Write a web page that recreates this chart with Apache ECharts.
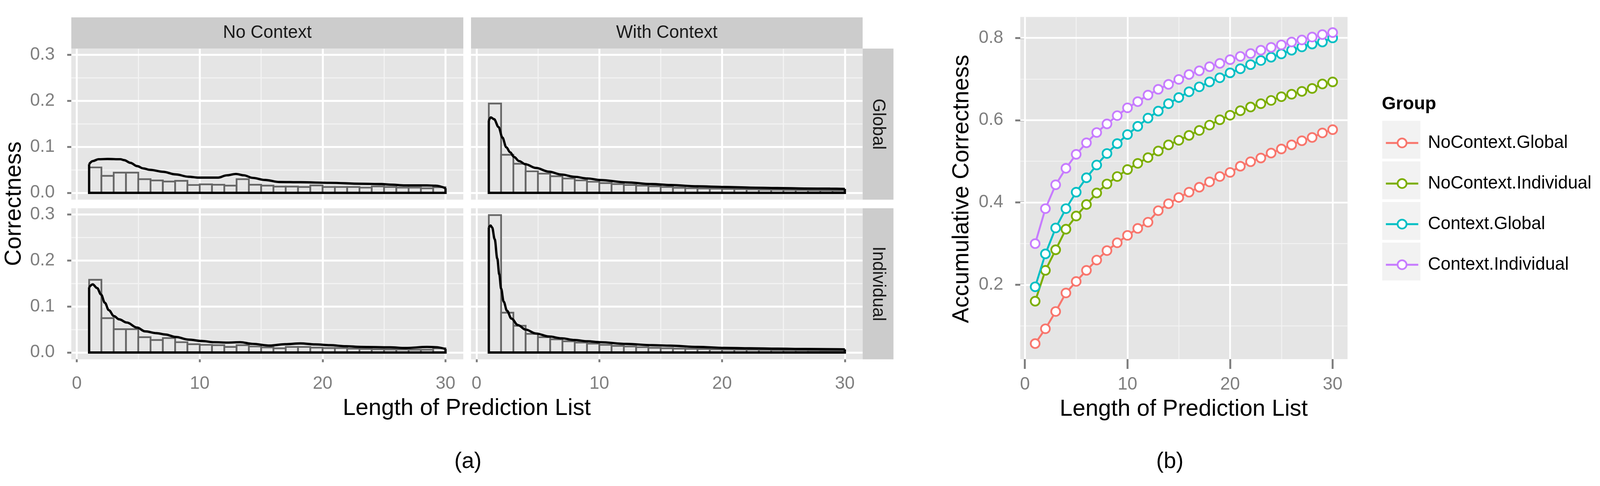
<!DOCTYPE html>
<html><head><meta charset="utf-8">
<script src="https://cdn.jsdelivr.net/npm/echarts@6/dist/echarts.min.js"></script>
<style>html,body{margin:0;padding:0;background:#fff;overflow:hidden}#c{width:100vw;height:100vh}</style>
</head><body><div id="c"></div>
<script>
// ---------------- data ----------------
const listLength = [1,2,3,4,5,6,7,8,9,10,11,12,13,14,15,16,17,18,19,20,21,22,23,24,25,26,27,28,29,30];
const binStart = [1,2,3,4,5,6,7,8,9,10,11,12,13,14,15,16,17,18,19,20,21,22,23,24,25,26,27,28,29];
const binWidth = 1;

// (a) histogram bars
const noCtxGlobalBars = [0.0552,0.0368,0.0439,0.0439,0.0297,0.0269,0.0246,0.0260,0.0170,0.0184,0.0176,0.0156,0.0297,0.0176,0.0156,0.0135,0.0135,0.0127,0.0160,0.0127,0.0127,0.0127,0.0113,0.0140,0.0127,0.0113,0.0113,0.0099,0.0120];
const ctxGlobalBars   = [0.1940,0.0827,0.0631,0.0467,0.0416,0.0360,0.0312,0.0270,0.0240,0.0212,0.0190,0.0170,0.0156,0.0142,0.0127,0.0110,0.0100,0.0095,0.0090,0.0085,0.0080,0.0075,0.0070,0.0068,0.0062,0.0060,0.0055,0.0052,0.0050];
const noCtxIndivBars  = [0.1580,0.0746,0.0506,0.0506,0.0333,0.0271,0.0313,0.0223,0.0180,0.0166,0.0158,0.0121,0.0158,0.0130,0.0110,0.0090,0.0121,0.0121,0.0106,0.0097,0.0097,0.0085,0.0076,0.0070,0.0065,0.0065,0.0060,0.0060,0.0090];
const ctxIndivBars    = [0.2985,0.0865,0.0580,0.0404,0.0333,0.0285,0.0243,0.0215,0.0192,0.0166,0.0144,0.0130,0.0115,0.0101,0.0092,0.0085,0.0080,0.0075,0.0070,0.0066,0.0062,0.0060,0.0056,0.0053,0.0050,0.0048,0.0045,0.0043,0.0040];

// (a) density curves [x, y]
const noCtxGlobalDens = [[1,0.0623],[1.3,0.069],[1.76,0.073],[2.5,0.0735],[3.54,0.073],[3.85,0.071],[4.37,0.065],[4.9,0.058],[5.42,0.053],[5.94,0.050],[6.99,0.0458],[8.04,0.040],[9.08,0.035],[9.92,0.033],[11.5,0.033],[12.2,0.038],[12.95,0.041],[13.6,0.038],[14.3,0.0325],[15.3,0.028],[16.5,0.0235],[18.2,0.023],[20.6,0.0217],[23.1,0.0197],[24.8,0.019],[25.5,0.0177],[26.7,0.016],[28.5,0.016],[29.2,0.0155],[30,0.0099]];
const ctxGlobalDens = [[1,0.157],[1.16,0.164],[1.43,0.160],[1.79,0.143],[2.11,0.120],[2.42,0.099],[2.74,0.088],[3.05,0.078],[3.47,0.069],[3.99,0.062],[4.84,0.054],[5.89,0.046],[6.93,0.0397],[7.98,0.0348],[9.03,0.0312],[10.08,0.0278],[12.2,0.0227],[14.3,0.019],[15.8,0.0169],[18,0.0141],[20.2,0.0127],[22.3,0.0113],[24.5,0.0104],[26.7,0.0093],[28.8,0.009],[30,0.0085]];
const noCtxIndivDens = [[1,0.1416],[1.29,0.148],[1.65,0.140],[1.97,0.126],[2.28,0.108],[2.6,0.092],[3.02,0.079],[3.44,0.072],[4.07,0.065],[4.91,0.054],[5.54,0.046],[6.48,0.042],[7.21,0.039],[8.05,0.0336],[9.1,0.028],[10.15,0.0249],[11.2,0.0223],[12.25,0.0215],[13.3,0.0223],[14.3,0.0187],[15.7,0.015],[16.95,0.018],[18.2,0.0197],[19.4,0.0176],[20.6,0.0158],[21.9,0.0136],[23.1,0.0121],[25.5,0.0112],[26.75,0.0097],[28.5,0.0121],[29.2,0.0115],[30,0.0076]];
const ctxIndivDens = [[1,0.2717],[1.14,0.276],[1.27,0.2717],[1.48,0.246],[1.69,0.204],[1.85,0.170],[2.0,0.139],[2.21,0.1105],[2.48,0.0907],[2.84,0.0738],[3.37,0.0596],[4.0,0.0497],[4.84,0.0412],[5.89,0.0348],[6.93,0.0308],[7.98,0.0271],[9.03,0.0243],[10.08,0.0223],[12.2,0.0186],[14.3,0.0158],[15.8,0.0148],[18,0.0121],[20.2,0.010],[22.3,0.0091],[24.5,0.0082],[26.7,0.0076],[30,0.0067]];

// (b) accumulative correctness
const accNoCtxGlobal = [0.057,0.093,0.135,0.180,0.208,0.235,0.260,0.283,0.302,0.320,0.337,0.352,0.380,0.397,0.412,0.425,0.437,0.450,0.463,0.473,0.488,0.499,0.508,0.520,0.530,0.540,0.550,0.558,0.569,0.577];
const accNoCtxIndiv  = [0.160,0.235,0.285,0.335,0.367,0.395,0.423,0.445,0.463,0.480,0.495,0.509,0.525,0.540,0.551,0.563,0.575,0.588,0.601,0.612,0.623,0.632,0.640,0.648,0.657,0.663,0.670,0.677,0.688,0.693];
const accCtxGlobal   = [0.195,0.275,0.338,0.385,0.425,0.460,0.491,0.519,0.543,0.565,0.585,0.605,0.622,0.640,0.655,0.669,0.681,0.693,0.703,0.715,0.725,0.735,0.745,0.753,0.761,0.770,0.778,0.785,0.790,0.800];
const accCtxIndiv    = [0.300,0.385,0.443,0.483,0.517,0.545,0.570,0.591,0.611,0.630,0.645,0.661,0.675,0.687,0.699,0.711,0.720,0.730,0.738,0.747,0.755,0.762,0.770,0.777,0.783,0.790,0.795,0.802,0.808,0.813];

const groupNames = ['NoContext.Global','NoContext.Individual','Context.Global','Context.Individual'];
const colLabels = ['No Context','With Context'];
const rowLabels = ['Global','Individual'];

// ticks
const xMajor = [0,10,20,30];
const xMinor = [5,15,25];
const yMajorA = [0,0.1,0.2,0.3];
const yMinorA = [0.05,0.15,0.25];
const yMajorB = [0.2,0.4,0.6,0.8];
const yMinorB = [0.1,0.3,0.5,0.7];

// ---------------- layout / style (designed for 4151 x 1245, scaled to the real viewport) ----------------
const VW = window.innerWidth || 4151, VH = window.innerHeight || 1245;
const SX = VW / 4151, SY = VH / 1245, SF = Math.min(SX, SY);
const X = v => v * SX, Y = v => v * SY, F = v => v * SF;

const FONT = 'Liberation Sans, Arial, Helvetica, sans-serif';
const GREY50 = '#7F7F7F';
const BG = '#E5E5E5';
const panelsPx = [
  {left:185,  top:124.5, width:1017, height:387},
  {left:1222, top:124.5, width:1016, height:387},
  {left:185,  top:533.5, width:1017, height:387},
  {left:1222, top:533.5, width:1016, height:387}
];
const panels = panelsPx.map(p => ({left:X(p.left), top:Y(p.top), width:X(p.width), height:Y(p.height)}));
const panelB = {left:X(2647), top:Y(43.5), width:X(849), height:Y(876.5)};
const facetBars = [noCtxGlobalBars, ctxGlobalBars, noCtxIndivBars, ctxIndivBars];
const facetDens = [noCtxGlobalDens, ctxGlobalDens, noCtxIndivDens, ctxIndivDens];
const groupColors = ['#F8766D','#7CAE00','#00BFC4','#C77CFF'];
const groupAcc = [accNoCtxGlobal, accNoCtxIndiv, accCtxGlobal, accCtxIndiv];

const grids = panels.map(p => Object.assign({show:true, backgroundColor:BG, borderWidth:0, containLabel:false}, p));
grids.push(Object.assign({show:true, backgroundColor:BG, borderWidth:0, containLabel:false}, panelB));

const xAxes = [], yAxes = [], series = [];

function gridMarkLine(xMaj, xMin, yMaj, yMin, wMaj, wMin) {
  const d = [];
  xMin.forEach(v => d.push({xAxis:v, lineStyle:{color:'#F2F2F2', width:F(wMin), type:'solid'}}));
  yMin.forEach(v => d.push({yAxis:v, lineStyle:{color:'#F2F2F2', width:F(wMin), type:'solid'}}));
  xMaj.forEach(v => d.push({xAxis:v, lineStyle:{color:'#FFFFFF', width:F(wMaj), type:'solid'}}));
  yMaj.forEach(v => d.push({yAxis:v, lineStyle:{color:'#FFFFFF', width:F(wMaj), type:'solid'}}));
  return {silent:true, symbol:['none','none'], label:{show:false}, z:1, animation:false, data:d,
          emphasis:{disabled:true}};
}

panels.forEach((p, i) => {
  const bottom = i >= 2, leftCol = (i % 2) === 0;
  xAxes.push({type:'value', gridIndex:i, min:-0.45, max:31.45,
    axisLine:{show:false}, splitLine:{show:false},
    axisTick:{show:bottom, length:Y(25), customValues:xMajor, lineStyle:{color:GREY50, width:F(5)}},
    axisLabel:{show:bottom, customValues:xMajor, margin:Y(40), color:GREY50, fontSize:F(46), fontFamily:FONT}
  });
  yAxes.push({type:'value', gridIndex:i, min:-0.0149, max:0.3134,
    axisLine:{show:false}, splitLine:{show:false},
    axisTick:{show:leftCol, length:X(25), customValues:yMajorA, lineStyle:{color:GREY50, width:F(5)}},
    axisLabel:{show:leftCol, customValues:yMajorA, margin:X(43), color:GREY50, fontSize:F(46), fontFamily:FONT,
               formatter: v => Number(v).toFixed(1)}
  });
  series.push({type:'line', xAxisIndex:i, yAxisIndex:i, data:[], silent:true, z:1,
    markLine: gridMarkLine(xMajor, xMinor, yMajorA, yMinorA, 5, 3)});
  series.push({type:'custom', xAxisIndex:i, yAxisIndex:i, z:2, silent:true,
    data: binStart.map((s, k) => [s, s + binWidth, facetBars[i][k]]),
    encode:{x:[0,1], y:2},
    renderItem: function(params, api) {
      const a = api.coord([api.value(0), api.value(2)]);
      const b = api.coord([api.value(1), 0]);
      return {type:'rect', shape:{x:a[0], y:a[1], width:b[0]-a[0], height:b[1]-a[1]},
              style:{fill:'#E6E6E6', stroke:'#666666', lineWidth:F(4.5)}};
    }
  });
  const dens = facetDens[i];
  const first = dens[0], last = dens[dens.length-1];
  series.push({type:'line', xAxisIndex:i, yAxisIndex:i, z:3, silent:true, symbol:'none',
    data:[[last[0], last[1]], [last[0], 0], [first[0], 0], [first[0], first[1]]],
    lineStyle:{color:'#000', width:F(6), join:'miter'}});
  series.push({type:'line', xAxisIndex:i, yAxisIndex:i, z:4, silent:true, symbol:'none',
    data: dens, smooth:0.35, smoothMonotone:'x',
    lineStyle:{color:'#000', width:F(6)}});
});

// (b)
xAxes.push({type:'value', gridIndex:4, min:-0.45, max:31.45,
  axisLine:{show:false}, splitLine:{show:false},
  axisTick:{show:true, length:Y(25), customValues:xMajor, lineStyle:{color:GREY50, width:F(5)}},
  axisLabel:{show:true, customValues:xMajor, margin:Y(43), color:GREY50, fontSize:F(46), fontFamily:FONT}
});
yAxes.push({type:'value', gridIndex:4, min:0.0192, max:0.8508,
  axisLine:{show:false}, splitLine:{show:false},
  axisTick:{show:true, length:X(25), customValues:yMajorB, lineStyle:{color:GREY50, width:F(5)}},
  axisLabel:{show:true, customValues:yMajorB, margin:X(44), color:GREY50, fontSize:F(46), fontFamily:FONT,
             formatter: v => Number(v).toFixed(1)}
});
series.push({type:'line', xAxisIndex:4, yAxisIndex:4, data:[], silent:true, z:1,
  markLine: gridMarkLine(xMajor, xMinor, yMajorB, yMinorB, 4.5, 2.5)});
groupNames.forEach((name, g) => {
  series.push({type:'line', name:name, xAxisIndex:4, yAxisIndex:4, z:2+g,
    data: listLength.map((x, k) => [x, groupAcc[g][k]]),
    symbol:'circle', symbolSize:F(23), showAllSymbol:true,
    lineStyle:{color:groupColors[g], width:F(5)},
    itemStyle:{color:'#FFFFFF', borderColor:groupColors[g], borderWidth:F(4.5)},
    emphasis:{disabled:true}
  });
});

const keyCenters = [358, 462, 566, 670];
const legends = groupNames.map((name, g) => ({
  data:[name], left:X(3593), top:Y(keyCenters[g]) - F(14.5), orient:'vertical', padding:0, itemGap:0,
  itemWidth:X(84), itemHeight:F(29), selectedMode:false,
  itemStyle:{borderWidth:F(4.5)}, lineStyle:{width:F(5)},
  textStyle:{fontSize:F(46), color:'#000', fontFamily:FONT, padding:[0,0,0,X(20)], lineHeight:F(29)}
}));

function txt(x, y, s, size, opts) {
  opts = opts || {};
  return {type:'text', x:X(x), y:Y(y), rotation:opts.rot || 0, z:10, silent:true,
    style:{text:s, font:(opts.bold ? 'bold ' : '') + F(size) + 'px ' + FONT, fill:opts.color || '#000',
           textAlign:opts.align || 'center', textVerticalAlign:'middle', align:opts.align || 'center', verticalAlign:'middle'}};
}
function box(x, y, w, h, fill, z) {
  return {type:'rect', shape:{x:X(x), y:Y(y), width:X(w), height:Y(h)}, style:{fill:fill}, silent:true, z:z};
}
const graphics = [];
// top strips
[panelsPx[0], panelsPx[1]].forEach((p, c) => {
  graphics.push(box(p.left, 44.5, p.width, 80, '#CCCCCC', 5));
  graphics.push(txt(p.left + p.width/2, 84.5, colLabels[c], 46, {color:'#1A1A1A'}));
});
// right strips
[panelsPx[1], panelsPx[3]].forEach((p, r) => {
  graphics.push(box(p.left + p.width, p.top, 80, p.height, '#CCCCCC', 5));
  graphics.push(txt(p.left + p.width + 40, p.top + p.height/2, rowLabels[r], 46, {color:'#1A1A1A', rot:-Math.PI/2}));
});
// titles (a)
graphics.push(txt(37, 522, 'Correctness', 60, {rot:Math.PI/2}));
graphics.push(txt(1211, 1047, 'Length of Prediction List', 60));
graphics.push(txt(1214, 1183, '(a)', 58));
// titles (b)
graphics.push(txt(2496, 484, 'Accumulative Correctness', 60, {rot:Math.PI/2}));
graphics.push(txt(3071, 1049, 'Length of Prediction List', 60));
graphics.push(txt(3035, 1183, '(b)', 58));
// legend
graphics.push(txt(3585, 267, 'Group', 47, {bold:true, align:'left'}));
keyCenters.forEach(cy => graphics.push(box(3586, cy - 48.5, 99, 97, '#F2F2F2', -1)));

const chart = echarts.init(document.getElementById('c'), null, {renderer:'canvas', width:VW, height:VH});
chart.setOption({
  animation:false,
  backgroundColor:'#FFFFFF',
  grid:grids, xAxis:xAxes, yAxis:yAxes, series:series,
  legend:legends,
  graphic:{elements:graphics}
});
</script></body></html>
